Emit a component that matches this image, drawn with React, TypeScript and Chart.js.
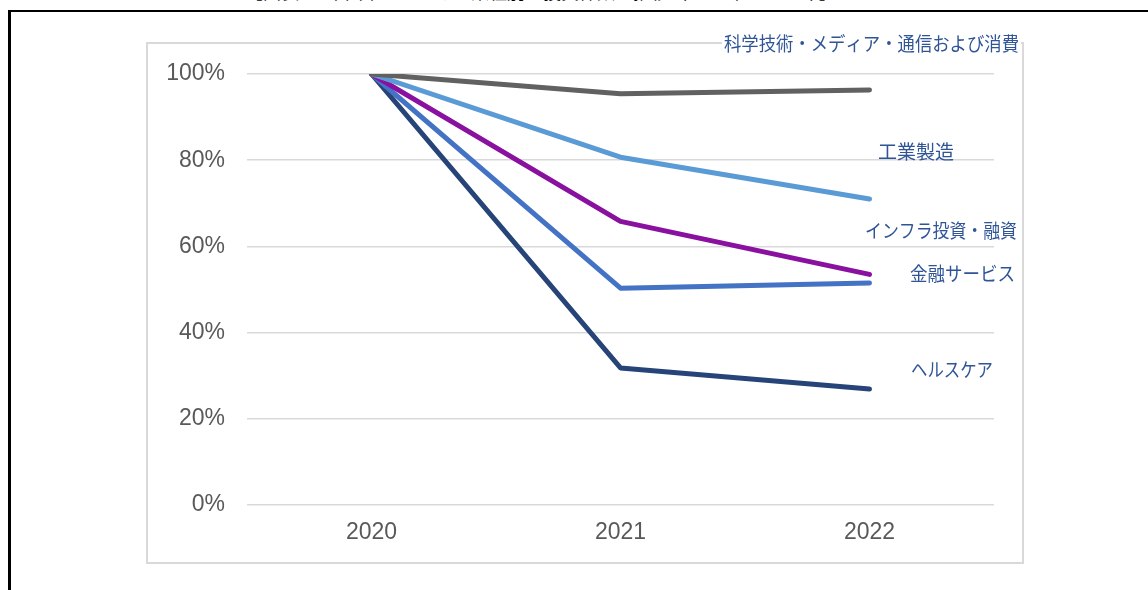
import React, { useEffect, useRef } from "react";
import { Chart, registerables } from "chart.js";

Chart.register(...registerables);

// Categories and series (index, 2020 = 100%)
const years = ["2020", "2021", "2022"];
const sciTechMedia = [100, 95.4, 96.3];
const industrial = [100, 80.7, 71.0];
const infraInvest = [100, 65.8, 53.5];
const finance = [100, 50.3, 51.5];
const healthcare = [100, 31.8, 26.9];

const seriesNames = [
  "科学技術・メディア・通信および消費",
  "工業製造",
  "インフラ投資・融資",
  "金融サービス",
  "ヘルスケア",
];
const seriesColors = ["#616161", "#5B9BD5", "#8A109F", "#4472C4", "#264478"];

// Where each series name is written (left edge, width, vertical centre)
const nameBoxes = [
  { left: 724, width: 295, cy: 44, backing: true },
  { left: 878, width: 82, cy: 152, backing: false },
  { left: 865, width: 152, cy: 231, backing: false },
  { left: 910, width: 105, cy: 274, backing: false },
  { left: 911, width: 82, cy: 370, backing: false },
];

const seriesNamePlugin = {
  id: "seriesNames",
  afterDatasetsDraw(chart: any) {
    const ctx = chart.ctx;
    ctx.save();
    ctx.font = '19px "Noto Sans CJK JP"';
    ctx.textBaseline = "middle";
    ctx.textAlign = "left";
    seriesNames.forEach((name, i) => {
      const b = nameBoxes[i];
      if (b.backing) {
        ctx.fillStyle = "#ffffff";
        ctx.fillRect(b.left - 2, b.cy - 12, b.width + 4, 24);
      }
      ctx.fillStyle = "#2F5597";
      ctx.fillText(name, b.left, b.cy, b.width);
    });
    ctx.restore();
  },
};

export default function App() {
  const canvasRef = useRef<HTMLCanvasElement | null>(null);

  useEffect(() => {
    if (!canvasRef.current) return;
    const seriesValues = [sciTechMedia, industrial, infraInvest, finance, healthcare];
    const chart = new Chart(canvasRef.current, {
      type: "line",
      data: {
        labels: years,
        datasets: seriesValues.map((vals, i) => ({
          label: seriesNames[i],
          data: vals,
          borderColor: seriesColors[i],
          backgroundColor: seriesColors[i],
          borderWidth: 5,
          borderCapStyle: "round",
          borderJoinStyle: "round",
          pointRadius: 0,
          tension: 0,
          fill: false,
        })),
      },
      options: {
        animation: false,
        responsive: false,
        maintainAspectRatio: false,
        layout: { padding: { left: 0, right: 154, top: 74, bottom: 0 } },
        plugins: {
          legend: { display: false },
          tooltip: { enabled: false },
          title: { display: false },
        },
        scales: {
          x: {
            offset: true,
            grid: { display: false, drawTicks: false },
            border: { display: false },
            ticks: {
              color: "#595959",
              font: { family: '"Liberation Sans", Arial', size: 23 },
              padding: 14,
            },
            afterFit(scale: any) {
              scale.height = 85;
            },
          },
          y: {
            min: 0,
            max: 100,
            grid: { color: "#d9d9d9", lineWidth: 1.5, drawTicks: false },
            border: { display: false },
            ticks: {
              stepSize: 20,
              color: "#595959",
              font: { family: '"Liberation Sans", Arial', size: 23 },
              padding: 22,
              callback: (v: any) => v + "%",
            },
            afterFit(scale: any) {
              scale.width = 247;
            },
          },
        },
      },
      plugins: [seriesNamePlugin],
    });
    return () => chart.destroy();
  }, []);

  return (
    <div
      style={{
        position: "fixed",
        left: 0,
        top: 0,
        width: 1148,
        height: 590,
        background: "#ffffff",
        overflow: "hidden",
      }}
    >
      <div
        style={{
          position: "absolute",
          left: 245,
          top: -18,
          fontFamily: '"Noto Sans CJK JP"',
          fontSize: 18,
          lineHeight: "18px",
          color: "#000000",
          whiteSpace: "nowrap",
        }}
      >
        【図表3　中国本土における業種別の投資件数の推移（2020年＝100%）】
      </div>
      <div
        style={{
          position: "absolute",
          left: 8,
          top: 10,
          width: 1160,
          height: 600,
          borderTop: "2px solid #000000",
          borderLeft: "3px solid #000000",
          boxSizing: "border-box",
        }}
      />
      <div
        style={{
          position: "absolute",
          left: 146,
          top: 42,
          width: 878,
          height: 522,
          border: "2px solid #d9d9d9",
          boxSizing: "border-box",
        }}
      />
      <canvas
        ref={canvasRef}
        width={1148}
        height={590}
        style={{ position: "absolute", left: 0, top: 0, width: 1148, height: 590 }}
      />
    </div>
  );
}
